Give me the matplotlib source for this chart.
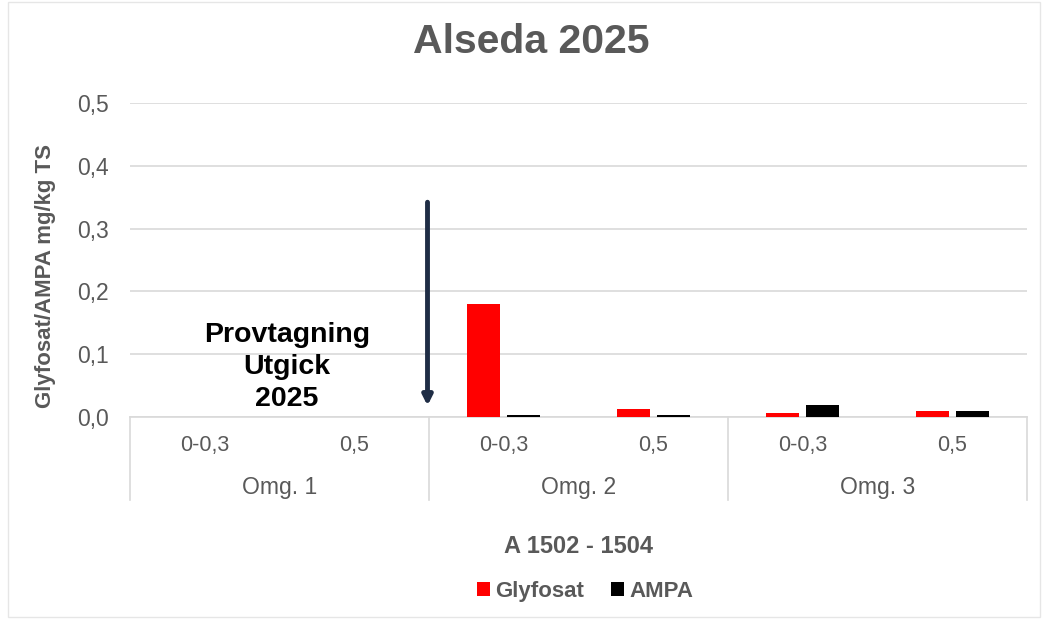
import numpy as np
import matplotlib.pyplot as plt
import matplotlib.transforms as mtransforms
from matplotlib.patches import Rectangle

plt.rcParams['font.family'] = ['Liberation Sans', 'DejaVu Sans']

groups = ['Omg. 1', 'Omg. 2', 'Omg. 3']
depths = ['0-0,3', '0,5']
glyfosat = [np.nan, np.nan, 0.18, 0.013, 0.007, 0.01]
ampa = [np.nan, np.nan, 0.003, 0.003, 0.019, 0.01]
yticks = [0.0, 0.1, 0.2, 0.3, 0.4, 0.5]

grey = '#595959'
linec = '#d9d9d9'

fig = plt.figure(figsize=(10.45, 6.19), dpi=100)
fig.patches.append(Rectangle((0.008, 0.004), 0.987, 0.992, transform=fig.transFigure,
                             fill=False, edgecolor='#e6e6e6', lw=1))
ax = fig.add_axes([130 / 1045, 1 - 417 / 619, 897 / 1045, 314 / 619])

x = np.arange(len(glyfosat))
w = 0.22
ax.bar(x - 0.135, glyfosat, w, color='#ff0000', label='Glyfosat', zorder=3)
ax.bar(x + 0.135, ampa, w, color='#000000', label='AMPA', zorder=3)

ax.set_xlim(-0.5, len(x) - 0.5)
ax.set_ylim(0, 0.5)
ax.set_yticks(yticks)
ax.set_yticklabels([f'{v:.1f}'.replace('.', ',') for v in yticks],
                   color=grey, fontsize=16.5)
ax.yaxis.grid(True, color=linec, lw=1.2)
ax.set_axisbelow(True)
for s in ['top', 'right', 'left']:
    ax.spines[s].set_visible(False)
ax.spines['bottom'].set_color(linec)
ax.spines['bottom'].set_linewidth(1.2)
ax.tick_params(axis='y', length=0, pad=15)
ax.tick_params(axis='x', length=0, pad=13)
ax.set_xticks(x)
ax.set_xticklabels(depths * len(groups), color=grey, fontsize=15.5)

trans = mtransforms.blended_transform_factory(ax.transData, ax.transAxes)
for b in [-0.5, 1.5, 3.5, 5.5]:
    ax.plot([b, b], [0, -0.264], transform=trans, color=linec, lw=1.2, clip_on=False)
for i, g in enumerate(groups):
    ax.text(2 * i + 0.5, -0.226, g, transform=trans, ha='center', va='center',
            color=grey, fontsize=16.5)

ax.text(2.5, -0.414, 'A 1502 - 1504', transform=trans, ha='center', va='center',
        color=grey, fontsize=17, fontweight='bold')

ax.set_ylabel('Glyfosat/AMPA mg/kg TS', color=grey, fontsize=16, fontweight='bold')
ax.yaxis.set_label_coords(-0.082, 0.45)

ax.annotate('', xy=(1.49, 0.018), xytext=(1.49, 0.342),
            arrowprops=dict(arrowstyle='-|>', color='#1f2d45', lw=3.5,
                            mutation_scale=14, shrinkA=0, shrinkB=0))
ax.text(0.55, 0.08, 'Provtagning\nUtgick\n2025', ha='center', va='center',
        fontsize=20.5, fontweight='bold', color='black', linespacing=1.3)

fig.text(0.5086, 0.932, 'Alseda 2025', ha='center', va='center', fontsize=29.5,
         fontweight='bold', color=grey)

leg = fig.legend(loc='center', bbox_to_anchor=(0.56, 0.044), ncol=2, frameon=False,
                 handlelength=0.6, handleheight=0.6, handletextpad=0.25,
                 columnspacing=1.2, fontsize=16)
for t in leg.get_texts():
    t.set_color(grey)
    t.set_fontweight('bold')

fig.savefig('out.png', dpi=100)
